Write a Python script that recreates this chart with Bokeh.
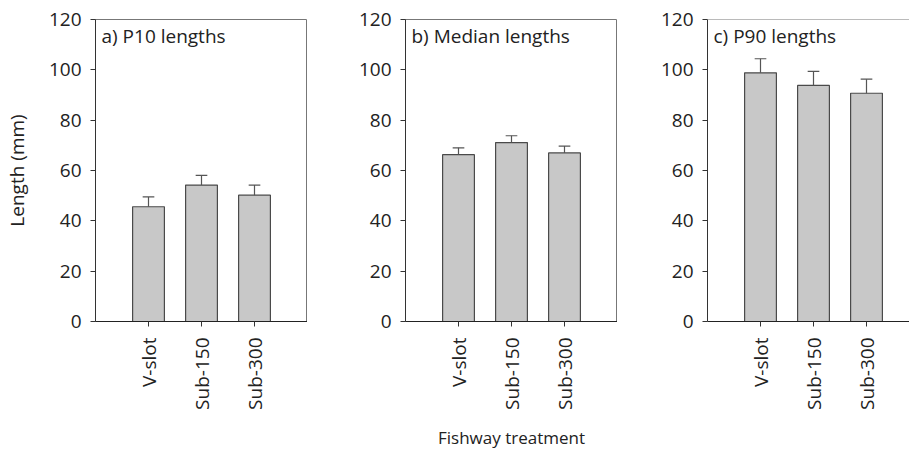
import math
from bokeh.plotting import figure
from bokeh.layouts import row
from bokeh.models import Label, FixedTicker, Range1d, Span
from bokeh.embed import file_html
from bokeh.resources import INLINE

categories = ["V-slot", "Sub-150", "Sub-300"]
titles = ["a) P10 lengths", "b) Median lengths", "c) P90 lengths"]
p10_mean = [45.6, 54.2, 50.2]
p10_err = [3.9, 3.9, 4.0]
median_mean = [66.3, 71.1, 67.0]
median_err = [2.7, 2.7, 2.7]
p90_mean = [98.8, 93.8, 90.7]
p90_err = [5.6, 5.6, 5.6]
y_ticks = [0, 20, 40, 60, 80, 100, 120]

FONT = "Open Sans"
TXT = "#222222"
FS = "19px"

series = [(p10_mean, p10_err), (median_mean, median_err), (p90_mean, p90_err)]
borders = [89, 98, 90]
frame_w = [212, 212, 202]
x_end = [4, 4, 202 / 53.0]

figs = []
for i, ((mean, err), title) in enumerate(zip(series, titles)):
    p = figure(frame_width=frame_w[i], frame_height=302,
               min_border_left=borders[i], min_border_right=0,
               min_border_top=19, min_border_bottom=122,
               x_range=Range1d(0, x_end[i]), y_range=Range1d(0, 120),
               output_backend="svg", toolbar_location=None,
               background_fill_color=None, border_fill_color=None)
    p.grid.visible = False
    if i < 2:
        p.outline_line_color = "#777777"
        p.outline_line_width = 1
    else:
        p.outline_line_color = None
        p.add_layout(Span(location=120, dimension="width", line_color="#777777", line_width=1))

    xs = [k + 1 for k in range(len(categories))]
    tops = [m + e for m, e in zip(mean, err)]
    p.vbar(x=xs, top=mean, bottom=0, width=0.6, fill_color="#c8c8c8",
           line_color="#4a4a4a", line_width=1.2)
    p.segment(x0=xs, y0=mean, x1=xs, y1=tops, line_color="#555555", line_width=1.2)
    p.segment(x0=[x - 0.11 for x in xs], y0=tops, x1=[x + 0.11 for x in xs], y1=tops,
              line_color="#555555", line_width=1.2)

    ya = p.yaxis[0]
    ya.ticker = FixedTicker(ticks=y_ticks)
    ya.minor_tick_line_color = None
    ya.major_tick_out = 5
    ya.major_tick_in = 0
    ya.axis_line_color = "#333333"
    ya.major_tick_line_color = "#333333"
    ya.major_label_text_font = FONT
    ya.major_label_text_font_size = FS
    ya.major_label_text_color = TXT
    ya.major_label_standoff = 9

    xa = p.xaxis[0]
    xa.ticker = FixedTicker(ticks=xs)
    xa.major_label_overrides = {x: c for x, c in zip(xs, categories)}
    xa.major_label_orientation = math.pi / 2
    xa.minor_tick_line_color = None
    xa.major_tick_out = 5
    xa.major_tick_in = 0
    xa.axis_line_color = "#222222"
    xa.major_tick_line_color = "#333333"
    xa.major_label_text_font = FONT
    xa.major_label_text_font_size = FS
    xa.major_label_text_color = TXT
    xa.major_label_standoff = 11

    if i == 0:
        ya.axis_label = "Length (mm)"
        ya.axis_label_text_font = FONT
        ya.axis_label_text_font_size = FS
        ya.axis_label_text_font_style = "normal"
        ya.axis_label_text_color = TXT
        ya.axis_label_standoff = 16
    if i == 1:
        xa.axis_label = "Fishway treatment"
        xa.axis_label_text_font = FONT
        xa.axis_label_text_font_size = "17px"
        xa.axis_label_text_font_style = "normal"
        xa.axis_label_text_color = TXT
        xa.axis_label_standoff = 13

    p.add_layout(Label(x=0, y=120, x_offset=6, y_offset=-3, text=title,
                       text_baseline="top", text_align="left",
                       text_font=FONT, text_font_size=FS, text_color=TXT))
    figs.append(p)

layout = row(*figs)
open("out.html", "w").write(file_html(layout, INLINE))
